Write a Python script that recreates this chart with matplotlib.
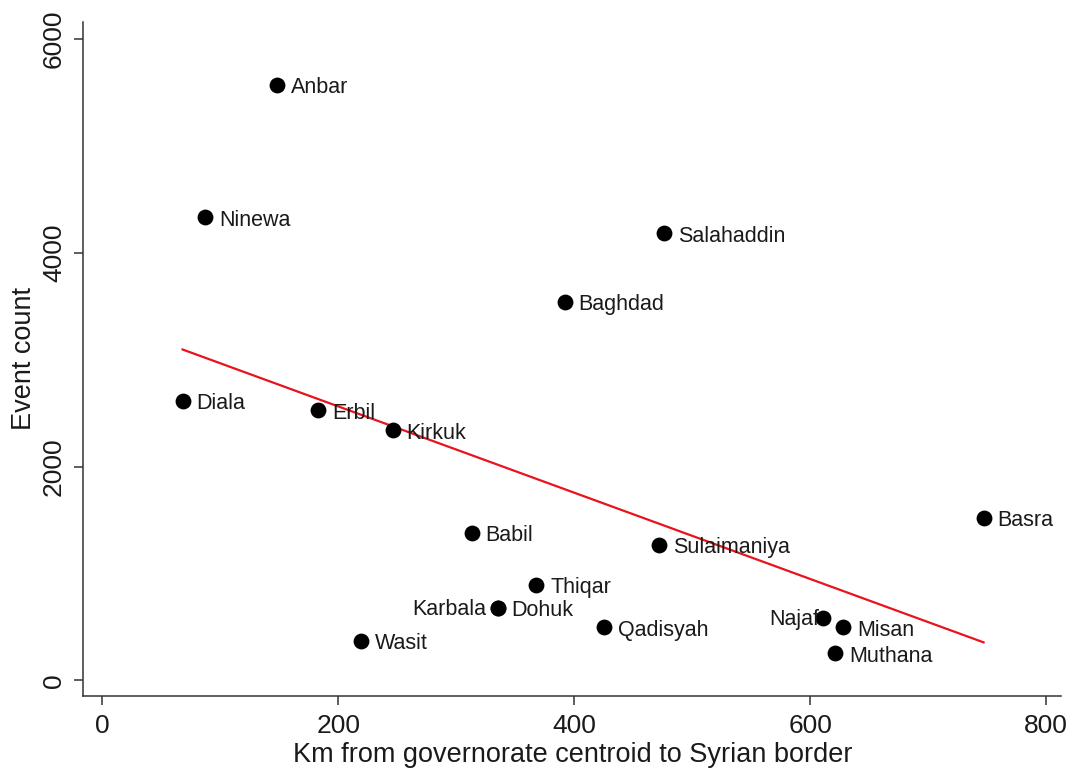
import matplotlib
matplotlib.use("Agg")
import matplotlib.pyplot as plt
import numpy as np

plt.rcParams['font.family'] = ['Liberation Sans', 'DejaVu Sans']

# governorates: distance to Syrian border (km) and number of events
names = ['Anbar', 'Ninewa', 'Salahaddin', 'Baghdad', 'Diala', 'Erbil', 'Kirkuk',
         'Basra', 'Babil', 'Sulaimaniya', 'Thiqar', 'Karbala', 'Dohuk',
         'Qadisyah', 'Wasit', 'Najaf', 'Misan', 'Muthana']
km = [148, 87, 476, 392, 68, 183, 246,
      747, 313, 472, 368, 335, 335,
      425, 219, 611, 628, 621]
events = [5572, 4332, 4182, 3541, 2613, 2526, 2338,
          1520, 1380, 1270, 895, 677, 677,
          495, 370, 583, 495, 251]

# labels that sit to the left of their marker
left_labels = {'Karbala': -8, 'Najaf': -3}

km = np.array(km)
events = np.array(events)

fig = plt.figure(figsize=(10.7, 7.71), dpi=100)
ax = fig.add_axes([0.078, 0.097, 0.914, 0.875])

ax.scatter(km, events, s=130, color='black', zorder=3, linewidths=0)

for name, x, y in zip(names, km, events):
    if name in left_labels:
        ax.annotate(name, (x, y), xytext=(left_labels[name], -1), textcoords='offset points',
                    ha='right', va='center', fontsize=15.5, color='#1a1a1a', zorder=4)
    else:
        ax.annotate(name, (x, y), xytext=(10, -2), textcoords='offset points',
                    ha='left', va='center', fontsize=15.5, color='#1a1a1a', zorder=4)

# linear fit over the observed range
slope, intercept = np.polyfit(km, events, 1)
xs = np.array([km.min(), km.max()])
ax.plot(xs, intercept + slope * xs, color='#e8141c', lw=1.6, zorder=2)

ax.set_xlim(-16, 813)
ax.set_ylim(-150, 6165)
ax.set_xticks([0, 200, 400, 600, 800])
ax.set_yticks([0, 2000, 4000, 6000])
ax.set_yticklabels(['0', '2000', '4000', '6000'], rotation=90, va='center')

ax.spines['top'].set_visible(False)
ax.spines['right'].set_visible(False)
for sp in ['left', 'bottom']:
    ax.spines[sp].set_color('#333333')
    ax.spines[sp].set_linewidth(1.1)

ax.tick_params(axis='both', direction='out', length=6.5, width=1.1, color='#333333',
               labelsize=19, labelcolor='#1a1a1a')
ax.tick_params(axis='x', pad=6)
ax.tick_params(axis='y', pad=6)

ax.set_xlabel('Km from governorate centroid to Syrian border', fontsize=19.5,
              color='#1a1a1a', labelpad=3)
ax.set_ylabel('Event count', fontsize=19.5, color='#1a1a1a', labelpad=4)

fig.savefig('out.png', dpi=100)
